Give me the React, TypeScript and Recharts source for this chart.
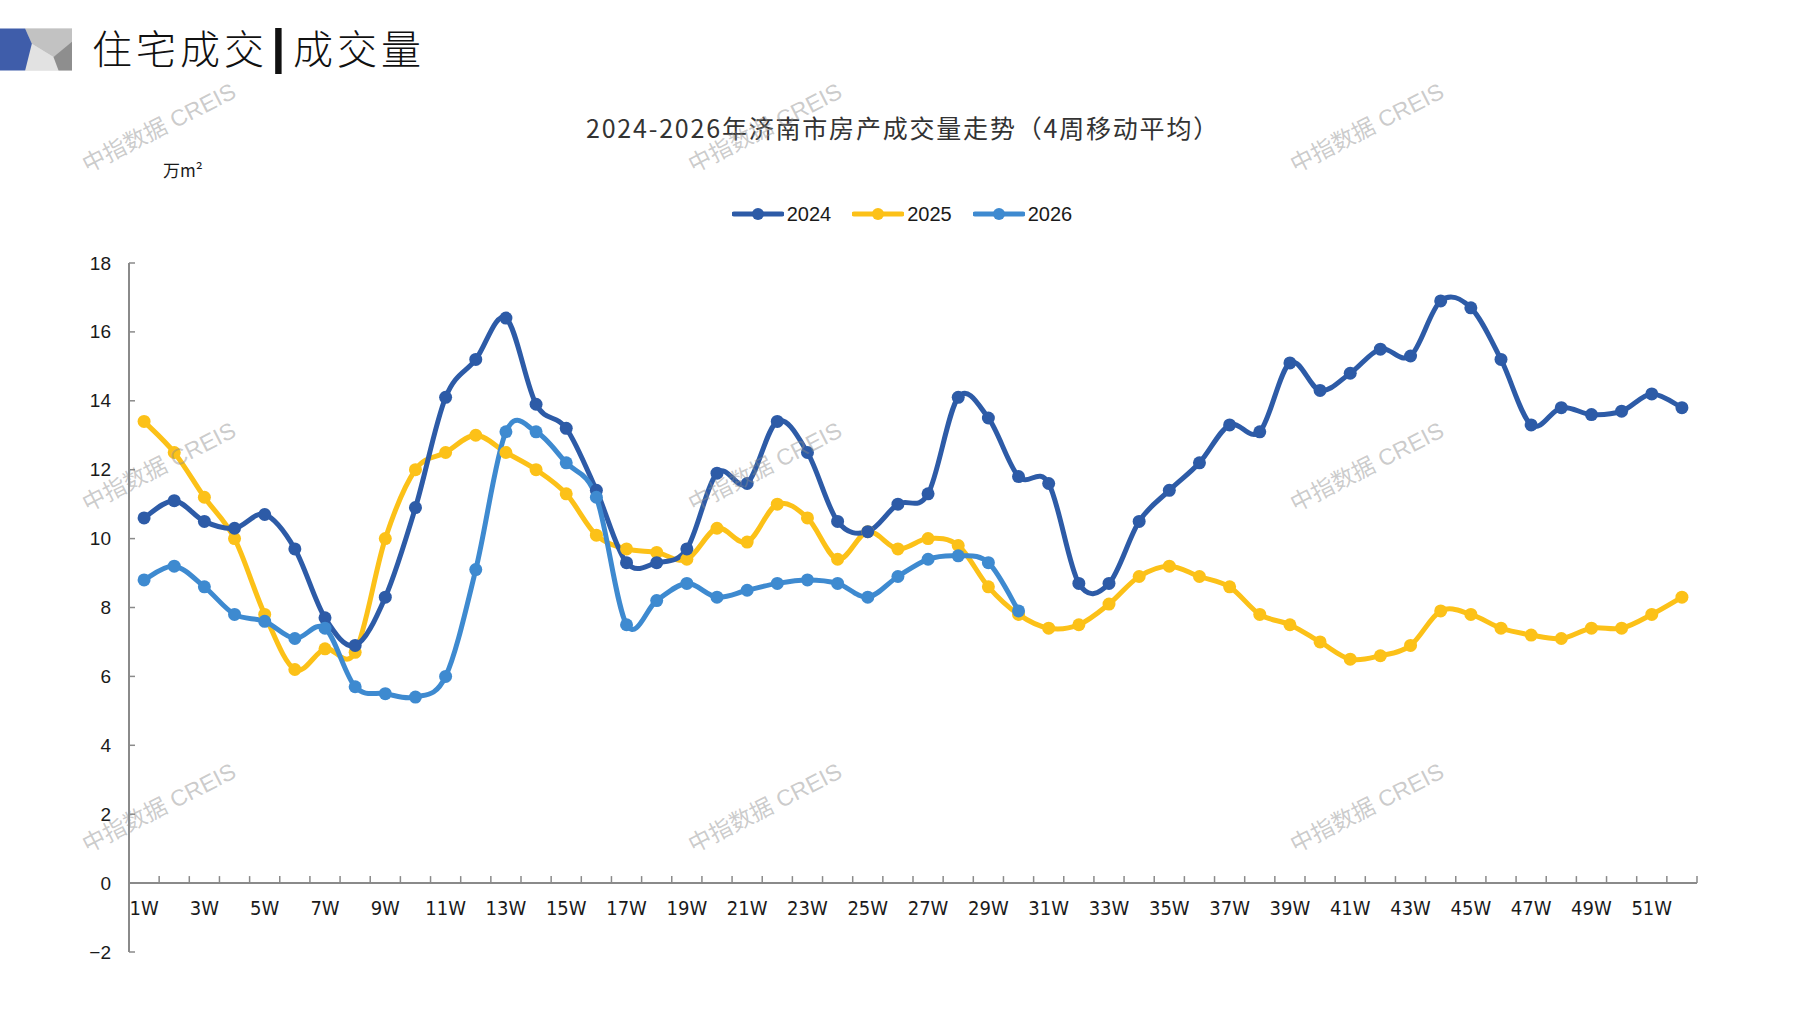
import React from 'react';
import { LineChart, Line, XAxis, YAxis, ReferenceLine, Legend } from 'recharts';

// ---------- data ----------
const WEEKS = Array.from({ length: 52 }, (_, i) => `${i + 1}W`);

const Y2024 = [
  10.6, 11.1, 10.5, 10.3, 10.7, 9.7, 7.7, 6.9, 8.3, 10.9,
  14.1, 15.2, 16.4, 13.9, 13.2, 11.4, 9.3, 9.3, 9.7, 11.9,
  11.6, 13.4, 12.5, 10.5, 10.2, 11.0, 11.3, 14.1, 13.5, 11.8,
  11.6, 8.7, 8.7, 10.5, 11.4, 12.2, 13.3, 13.1, 15.1, 14.3,
  14.8, 15.5, 15.3, 16.9, 16.7, 15.2, 13.3, 13.8, 13.6, 13.7, 14.2, 13.8,
];

const Y2025 = [
  13.4, 12.5, 11.2, 10.0, 7.8, 6.2, 6.8, 6.7, 10.0, 12.0,
  12.5, 13.0, 12.5, 12.0, 11.3, 10.1, 9.7, 9.6, 9.4, 10.3,
  9.9, 11.0, 10.6, 9.4, 10.2, 9.7, 10.0, 9.8, 8.6, 7.8,
  7.4, 7.5, 8.1, 8.9, 9.2, 8.9, 8.6, 7.8, 7.5, 7.0,
  6.5, 6.6, 6.9, 7.9, 7.8, 7.4, 7.2, 7.1, 7.4, 7.4, 7.8, 8.3,
];

const Y2026 = [
  8.8, 9.2, 8.6, 7.8, 7.6, 7.1, 7.4, 5.7, 5.5, 5.4,
  6.0, 9.1, 13.1, 13.1, 12.2, 11.2, 7.5, 8.2, 8.7, 8.3,
  8.5, 8.7, 8.8, 8.7, 8.3, 8.9, 9.4, 9.5, 9.3, 7.9,
];

const Y_TICKS = [-2, 0, 2, 4, 6, 8, 10, 12, 14, 16, 18];

const SERIES = [
  { key: 'y2024', name: '2024', color: '#2D5BA7' },
  { key: 'y2025', name: '2025', color: '#FCC118' },
  { key: 'y2026', name: '2026', color: '#3E8AD0' },
];
const DRAW_ORDER = ['y2025', 'y2024', 'y2026'];

const WATERMARK_X = [158, 764, 1366];
const WATERMARK_Y = [126, 465, 806];

const TITLE = '住宅成交';
const SUBTITLE = '成交量';
const CHART_TITLE = '2024-2026年济南市房产成交量走势（4周移动平均）';
const UNIT = '万m²';
const WATERMARK = '中指数据 CREIS';

const data = WEEKS.map((w, i) => ({
  week: w,
  y2024: Y2024[i] ?? null,
  y2025: Y2025[i] ?? null,
  y2026: Y2026[i] ?? null,
}));

// ---------- layout ----------
const W = 1797;
const H = 1010;
const PLOT_L = 129;
const PLOT_R = 1697;
const PLOT_T = 263;
const PLOT_B = 952;
const Y_AXIS_W = 60;
const X_AXIS_H = 30;
const Y_MIN = -2;
const Y_MAX = 18;
const BAND = (PLOT_R - PLOT_L) / WEEKS.length;
const ZERO_Y = PLOT_T + ((Y_MAX - 0) / (Y_MAX - Y_MIN)) * (PLOT_B - PLOT_T);
const Y_TICK_MARGIN = 18;
const AXIS = '#8a8a8a';
const NUM_FONT = '"Liberation Sans", Arial, sans-serif';
const NARROW_FONT = '"Liberation Sans Narrow", "DejaVu Sans Condensed", "Liberation Sans", sans-serif';
const CJK_FONT = '"Noto Sans CJK SC", "Noto Sans", sans-serif';

// Excel-like smoothing (Catmull-Rom as cubic Bezier)
const excelSmooth = (context: any) => {
  let pts: number[][] = [];
  return {
    areaStart() {},
    areaEnd() {},
    lineStart() {
      pts = [];
    },
    point(x: number, y: number) {
      pts.push([+x, +y]);
    },
    lineEnd() {
      const n = pts.length;
      if (!n) return;
      context.moveTo(pts[0][0], pts[0][1]);
      for (let i = 0; i < n - 1; i++) {
        const p0 = pts[Math.max(i - 1, 0)];
        const p1 = pts[i];
        const p2 = pts[i + 1];
        const p3 = pts[Math.min(i + 2, n - 1)];
        context.bezierCurveTo(
          p1[0] + (p2[0] - p0[0]) / 6,
          p1[1] + (p2[1] - p0[1]) / 6,
          p2[0] - (p3[0] - p1[0]) / 6,
          p2[1] - (p3[1] - p1[1]) / 6,
          p2[0],
          p2[1]
        );
      }
    },
  };
};

const XTick = (props: any) => {
  const { x, payload, index } = props;
  return (
    <g>
      <line x1={x + BAND / 2} x2={x + BAND / 2} y1={ZERO_Y - 7} y2={ZERO_Y} stroke={AXIS} strokeWidth={1.5} />
      {index % 2 === 0 && (
        <text
          x={x}
          y={ZERO_Y + 25}
          textAnchor="middle"
          dominantBaseline="central"
          fontFamily={NARROW_FONT}
          fontSize={20}
          fill="#1a1a1a"
        >
          {payload.value}
        </text>
      )}
    </g>
  );
};

const YTick = (props: any) => {
  const { x, y, payload } = props;
  const ax = x + Y_TICK_MARGIN;
  const v = payload.value;
  return (
    <g>
      <line x1={ax} x2={ax + 6} y1={y} y2={y} stroke={AXIS} strokeWidth={1.5} />
      <text x={x} y={y} textAnchor="end" dominantBaseline="central" fontFamily={NUM_FONT} fontSize={19} fill="#1a1a1a">
        {v < 0 ? `\u2212${-v}` : `${v}`}
      </text>
    </g>
  );
};

const LegendContent = () => (
  <div style={{ display: 'flex', justifyContent: 'center', alignItems: 'center', height: 24 }}>
    {SERIES.map((s, i) => (
      <div key={s.key} style={{ display: 'flex', alignItems: 'center', marginLeft: i ? 21 : 0 }}>
        <svg width={52} height={14} style={{ display: 'block' }}>
          <line x1={2} x2={50} y1={7} y2={7} stroke={s.color} strokeWidth={5} strokeLinecap="round" />
          <circle cx={26} cy={7} r={6} fill={s.color} />
        </svg>
        <span style={{ marginLeft: 3, fontFamily: NUM_FONT, fontSize: 20, color: '#1a1a1a', lineHeight: '24px' }}>
          {s.name}
        </span>
      </div>
    ))}
  </div>
);

const HeaderIcon = () => (
  <svg width={72} height={43} style={{ position: 'absolute', left: 0, top: 28 }} viewBox="0 28.3 71.7 41.7">
    <rect x={25} y={28.3} width={46.7} height={41.7} fill="#d9d9d9" />
    <polygon points="25,28.3 71.7,28.3 71.7,44 53.3,56.7 31.7,43.3" fill="#c2c2c2" />
    <polygon points="31.7,43.3 53.3,56.7 58.3,70 25,70" fill="#e2e2e2" />
    <polygon points="53.3,56.7 71.7,41.5 71.7,70 58.3,70" fill="#8e8e8e" />
    <polygon points="0,28.3 25,28.3 31.7,43.3 25,70 0,70" fill="#3F5DAA" />
  </svg>
);

export default function App() {
  return (
    <div
      style={{
        position: 'absolute',
        left: 0,
        top: 0,
        width: W,
        height: H,
        background: '#ffffff',
        overflow: 'hidden',
      }}
    >
      <HeaderIcon />
      <div
        style={{
          position: 'absolute',
          left: 92,
          top: 20,
          height: 54,
          display: 'flex',
          alignItems: 'center',
          fontFamily: CJK_FONT,
          fontWeight: 300,
          fontSize: 40,
          color: '#111',
          whiteSpace: 'nowrap',
        }}
      >
        <span style={{ letterSpacing: 4 }}>{TITLE}</span>
        <span style={{ fontFamily: NUM_FONT, fontWeight: 400, fontSize: 50, margin: '0 8px 0 4px', lineHeight: '54px', transform: 'scaleX(1.6)', display: 'inline-block' }}>|</span>
        <span style={{ letterSpacing: 4 }}>{SUBTITLE}</span>
      </div>

      <div
        style={{
          position: 'absolute',
          left: 903,
          top: 111,
          transform: 'translateX(-50%)',
          fontFamily: CJK_FONT,
          fontSize: 25,
          lineHeight: '32px',
          letterSpacing: 1.8,
          color: '#333',
          whiteSpace: 'nowrap',
        }}
      >
        {CHART_TITLE}
      </div>

      <div
        style={{
          position: 'absolute',
          left: 163,
          top: 158,
          fontFamily: CJK_FONT,
          fontSize: 17,
          lineHeight: '24px',
          color: '#1a1a1a',
          whiteSpace: 'nowrap',
        }}
      >
        {UNIT}
      </div>

      <div style={{ position: 'absolute', left: 0, top: 0 }}>
        <LineChart
          width={W}
          height={H}
          data={data}
          margin={{
            top: PLOT_T,
            right: W - PLOT_R,
            bottom: H - PLOT_B - X_AXIS_H,
            left: PLOT_L - Y_AXIS_W,
          }}
        >
          <XAxis
            dataKey="week"
            interval={0}
            height={X_AXIS_H}
            axisLine={false}
            tickLine={false}
            padding={{ left: BAND / 2, right: BAND / 2 }}
            tick={(p: any) => <XTick {...p} />}
          />
          <YAxis
            width={Y_AXIS_W}
            domain={[Y_MIN, Y_MAX]}
            ticks={Y_TICKS}
            interval={0}
            allowDataOverflow
            axisLine={{ stroke: AXIS, strokeWidth: 2 }}
            tickLine={false}
            tickSize={0}
            tickMargin={Y_TICK_MARGIN}
            tick={(p: any) => <YTick {...p} />}
          />
          <ReferenceLine y={0} stroke={AXIS} strokeWidth={2} />
          <Legend
            verticalAlign="middle"
            align="center"
            content={LegendContent}
            wrapperStyle={{ top: 202, left: 402, width: 1000, height: 24 }}
          />
          {DRAW_ORDER.map((k) => {
            const s = SERIES.find((d) => d.key === k)!;
            return (
              <Line
                key={s.key}
                dataKey={s.key}
                name={s.name}
                stroke={s.color}
                strokeWidth={5}
                type={excelSmooth as any}
                dot={{ r: 6.5, fill: s.color, stroke: s.color, strokeWidth: 0 }}
                activeDot={false}
                isAnimationActive={false}
                connectNulls={false}
              />
            );
          })}
        </LineChart>
      </div>

      {WATERMARK_Y.map((wy) =>
        WATERMARK_X.map((wx) => (
          <div
            key={`${wx}-${wy}`}
            style={{
              position: 'absolute',
              left: wx,
              top: wy,
              transform: 'translate(-50%, -50%) rotate(-27deg)',
              fontFamily: '"Liberation Sans", "Noto Sans CJK SC", sans-serif',
              fontSize: 23,
              color: 'rgba(140,140,140,0.45)',
              whiteSpace: 'nowrap',
              pointerEvents: 'none',
            }}
          >
            {WATERMARK}
          </div>
        ))
      )}
    </div>
  );
}
